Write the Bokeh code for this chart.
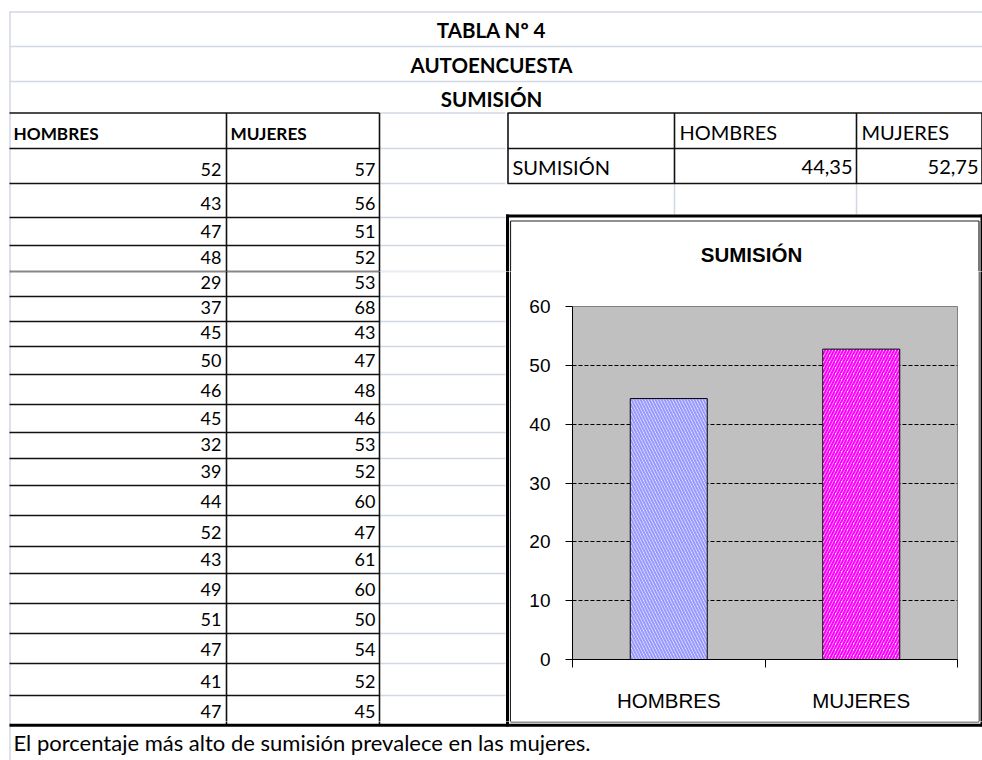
from bokeh.plotting import figure
from bokeh.models import Range1d, ColumnDataSource, FixedTicker
from bokeh.layouts import row, column
from bokeh.core.properties import value, field
from bokeh.embed import file_html
from bokeh.resources import INLINE

# ---------------- data ----------------
hombres = [52, 43, 47, 48, 29, 37, 45, 50, 46, 45, 32, 39, 44, 52, 43, 49, 51, 47, 41, 47]
mujeres = [57, 56, 51, 52, 53, 68, 43, 47, 48, 46, 53, 52, 60, 47, 61, 60, 50, 54, 52, 45]
categorias = ["HOMBRES", "MUJERES"]
promedios = [44.35, 52.75]
titulos = ["TABLA Nº 4", "AUTOENCUESTA", "SUMISIÓN"]
fila_resumen = "SUMISIÓN"
grafico_titulo = "SUMISIÓN"
conclusion = "El porcentaje más alto de sumisión prevalece en las mujeres."
y_ticks = [0, 10, 20, 30, 40, 50, 60]

# ---------------- layout of the sheet (picture pixels) ----------------
ROW_EDGES = [112.5, 148, 183, 217, 245, 271, 296, 321, 346, 374, 404, 432, 458,
             485, 515, 546, 573, 603, 633, 663, 695, 725]
LIGHT = "#D0D7E5"
DARK = "#111111"
F_SHEET = "Lato"
F_CHART = "Liberation Sans"
MID = {F_SHEET: 0.42, F_CHART: 0.36}   # baseline -> text middle offset (em)


def fmt(v):
    return ("%.2f" % v).replace(".", ",")


# text groups: (xs, baselines, texts, size_px, align, bold, font)
TEXTS = []
TEXTS.append(([491] * 3, [38, 73, 107], titulos, 20.5, "center", True, F_SHEET))
TEXTS.append(([13, 230], [140, 140], categorias, 17.2, "left", True, F_SHEET))
_ys = [ROW_EDGES[i + 2] - 6 for i in range(len(hombres))]
TEXTS.append(([221] * len(hombres), _ys, [str(v) for v in hombres], 18, "right", False, F_SHEET))
TEXTS.append(([375] * len(mujeres), _ys, [str(v) for v in mujeres], 18, "right", False, F_SHEET))
TEXTS.append(([679, 861], [140, 140], categorias, 20, "left", False, F_SHEET))
TEXTS.append(([512], [175], [fila_resumen], 20, "left", False, F_SHEET))
TEXTS.append(([852, 978], [175, 175], [fmt(v) for v in promedios], 20, "right", False, F_SHEET))
TEXTS.append(([751], [261], [grafico_titulo], 20.5, "center", True, F_CHART))
TEXTS.append(([13], [751], [conclusion], 22, "left", False, F_SHEET))


def sheet(x0, x1, y0, y1):
    p = figure(width=int(x1 - x0), height=int(y1 - y0),
               x_range=Range1d(x0, x1), y_range=Range1d(y1, y0),
               toolbar_location=None, x_axis_location=None, y_axis_location=None,
               min_border=0, output_backend="svg", outline_line_color=None,
               background_fill_color="white", border_fill_color="white",
               frame_align=False)
    p.grid.grid_line_color = None
    p.grid.visible = False

    def seg(xa, ya, xb, yb, color, w):
        p.segment(x0=xa, y0=ya, x1=xb, y1=yb, line_color=color, line_width=w)

    # light spreadsheet grid
    lx0, ly0, lx1, ly1 = [], [], [], []
    for y in [11.5, 46, 81]:
        lx0.append(9); ly0.append(y); lx1.append(982); ly1.append(y)
    lx0.append(9.5); ly0.append(11); lx1.append(9.5); ly1.append(760)
    for y in ROW_EDGES[:-1]:
        lx0.append(379); ly0.append(y); lx1.append(505); ly1.append(y)
    for x in [674, 856]:
        lx0.append(x); ly0.append(183); lx1.append(x); ly1.append(214)
    seg(lx0, ly0, lx1, ly1, LIGHT, 1.5)

    # dark borders of the tables
    dx0, dy0, dx1, dy1 = [], [], [], []
    for y in ROW_EDGES[:-1]:
        dx0.append(9); dy0.append(y); dx1.append(379); dy1.append(y)
    for x in [226, 379]:
        dx0.append(x); dy0.append(112.5); dx1.append(x); dy1.append(725)
    for y in [112.5, 148, 183]:
        dx0.append(507); dy0.append(y); dx1.append(982); dy1.append(y)
    for x in [507.5, 674, 856, 981.5]:
        dx0.append(x); dy0.append(112.5); dx1.append(x); dy1.append(183)
    seg(dx0, dy0, dx1, dy1, DARK, 1.6)

    # chart box: thick outer frame + thin inner frame
    seg([505.5, 507, 981.5, 9], [215.5, 214, 214, 724.7],
        [982, 507, 981.5, 982], [215.5, 726, 726, 724.7], "black", 3)
    seg([510, 510, 978.5, 510], [220.5, 220.5, 220.5, 721.5],
        [978.5, 510, 978.5, 978.5], [220.5, 721.5, 721.5, 721.5], "#222222", 1.2)

    # texts whose anchor lies in this piece of the sheet
    for xs, ys, texts, size, align, bold, font in TEXTS:
        idx = [i for i in range(len(texts)) if x0 <= xs[i] <= x1 and y0 <= ys[i] <= y1]
        if not idx:
            continue
        p.text(x=[xs[i] for i in idx], y=[ys[i] - MID[font] * size for i in idx],
               text=[texts[i] for i in idx], text_font=value(font),
               text_font_size="%gpx" % size, text_align=align, text_baseline="middle",
               text_font_style="bold" if bold else "normal", text_color="#000000")
    return p


top = sheet(0, 982, 0, 271)
left = sheet(0, 511, 271, 721)
strip = sheet(978, 982, 271, 721)
bottom = sheet(0, 982, 721, 760)

# ---------------- bar chart ----------------
chart = figure(width=467, height=450, x_range=Range1d(0, len(categorias)),
               y_range=Range1d(0, 60), toolbar_location=None, output_backend="svg",
               min_border_left=61, min_border_right=21, min_border_top=35,
               min_border_bottom=62, frame_align=False)
chart.background_fill_color = "#C0C0C0"
chart.border_fill_color = "white"
chart.outline_line_color = "#808080"
chart.outline_line_width = 1

centers = [i + 0.5 for i in range(len(categorias))]
src = ColumnDataSource(dict(x=centers, top=promedios,
                            hatch=["left_diagonal_line", "right_diagonal_line"],
                            hc=["#9999FF", "#FF00FF"]))
chart.vbar(x="x", top="top", bottom=0, width=0.4, source=src,
           fill_color="white", line_color="black", line_width=1,
           hatch_pattern=field("hatch"), hatch_color=field("hc"),
           hatch_scale=6, hatch_weight=2.2)

xa = chart.xaxis[0]
xa.ticker = FixedTicker(ticks=centers, minor_ticks=list(range(len(categorias) + 1)))
xa.major_label_overrides = {c: n for c, n in zip(centers, categorias)}
xa.major_tick_in = 0
xa.major_tick_out = 0
xa.minor_tick_in = 0
xa.minor_tick_out = 8
xa.minor_tick_line_color = "black"
xa.axis_line_color = "black"
xa.major_label_standoff = 21
xa.major_label_text_font = F_CHART
xa.major_label_text_font_size = "20.5px"
xa.major_label_text_color = "#000000"

ya = chart.yaxis[0]
ya.ticker = FixedTicker(ticks=y_ticks)
ya.major_tick_in = 0
ya.major_tick_out = 7
ya.minor_tick_line_color = None
ya.axis_line_color = "black"
ya.major_tick_line_color = "black"
ya.major_label_standoff = 15
ya.major_label_text_font = F_CHART
ya.major_label_text_font_size = "19px"
ya.major_label_text_color = "#000000"

chart.xgrid.visible = False
chart.ygrid.ticker = FixedTicker(ticks=y_ticks[1:-1])
chart.ygrid.grid_line_color = "black"
chart.ygrid.grid_line_dash = "4 2"
chart.ygrid.grid_line_width = 1

layout = column(top, row(left, chart, strip), bottom)

open("out.html", "w").write(file_html(layout, INLINE))
